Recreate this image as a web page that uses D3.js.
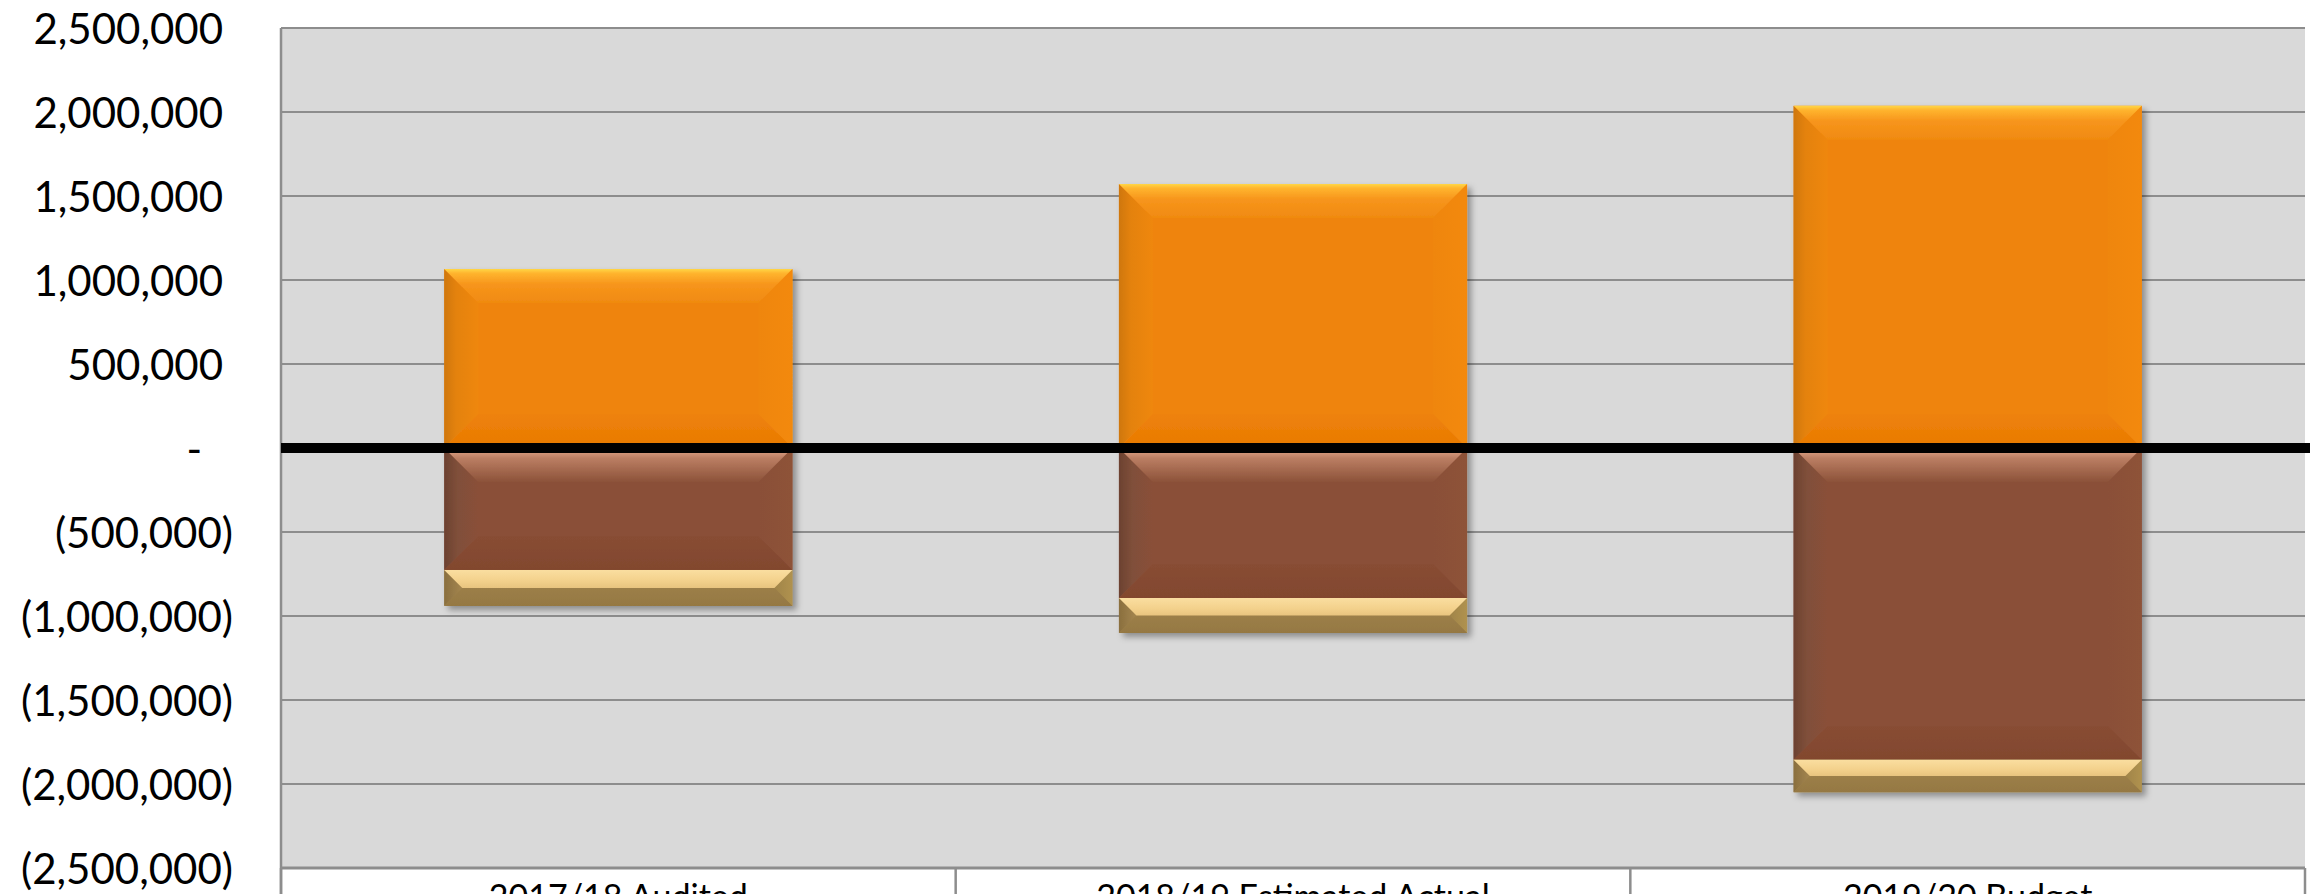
<!DOCTYPE html>
<html>
<head>
<meta charset="utf-8">
<script src="https://cdn.jsdelivr.net/npm/d3@7"></script>
<style>
  html, body { margin: 0; padding: 0; background: #ffffff; overflow: hidden; }
  svg { display: block; }
  text { font-family: Lato, "Open Sans", "Liberation Sans", sans-serif; fill: #000; }
</style>
</head>
<body>
<svg id="chart" width="2310" height="894"></svg>
<script>
// ---- data ----
const categories = ["2017/18 Audited", "2018/19 Estimated Actual", "2019/20 Budget"];
const seriesNames = ["Income", "Expenditure", "Other"];
const incomeValues = [1065000, 1571000, 2037000];
const expenditureValues = [-726000, -893000, -1855000];
const otherValues = [-214000, -208000, -194000];
const tickValues = [2500000, 2000000, 1500000, 1000000, 500000, 0, -500000, -1000000, -1500000, -2000000, -2500000];

// ---- layout ----
const W = 2310, H = 894;
const plot = { left: 281, right: 2305, top: 28, bottom: 868 };

const svg = d3.select("#chart");
const defs = svg.append("defs");

const rows = categories.map((c, i) => ({
  category: c,
  [seriesNames[0]]: incomeValues[i],
  [seriesNames[1]]: expenditureValues[i],
  [seriesNames[2]]: otherValues[i]
}));
const stacked = d3.stack().keys(seriesNames).offset(d3.stackOffsetDiverging)(rows);

const x = d3.scaleBand().domain(categories).range([plot.left, plot.right])
  .paddingInner(0.484).paddingOuter(0.242);
const y = d3.scaleLinear().domain([-2500000, 2500000]).range([plot.bottom, plot.top]);

// ---- palettes for bevelled segments ----
const palettes = {
  Income: {
    base: "#ef840c",
    top: [["0%", "#ffd646"], ["12%", "#ffb52e"], ["45%", "#f7951c"], ["100%", "#f08a10"]],
    left: [["0%", "#cf770f"], ["35%", "#e4820f"], ["100%", "#ef870f"]],
    right: [["0%", "#f3890a"], ["100%", "#ef860c"]],
    bottom: [["0%", "#e97a02"], ["100%", "#ee820a"]]
  },
  Expenditure: {
    base: "#8a5039",
    top: [["0%", "#e6aa8c"], ["30%", "#bb7e63"], ["100%", "#8c5239"]],
    left: [["0%", "#6c4131"], ["40%", "#80503a"], ["100%", "#8a5039"]],
    right: [["0%", "#8e5239"], ["100%", "#8a5039"]],
    bottom: [["0%", "#82472e"], ["100%", "#884d34"]]
  },
  Other: {
    base: "#9d8049",
    top: [["0%", "#fadea0"], ["60%", "#f3d18c"], ["100%", "#e8c47f"]],
    left: [["0%", "#8a6f3e"], ["100%", "#a48650"]],
    right: [["0%", "#b0924f"], ["100%", "#a08449"]],
    bottom: [["0%", "#957843"], ["100%", "#9c7f48"]]
  }
};

function addGrad(id, stops, dir) {
  const g = defs.append("linearGradient").attr("id", id)
    .attr("gradientUnits", "objectBoundingBox");
  if (dir === "top") g.attr("x1", 0).attr("y1", 0).attr("x2", 0).attr("y2", 1);
  if (dir === "bottom") g.attr("x1", 0).attr("y1", 1).attr("x2", 0).attr("y2", 0);
  if (dir === "left") g.attr("x1", 0).attr("y1", 0).attr("x2", 1).attr("y2", 0);
  if (dir === "right") g.attr("x1", 1).attr("y1", 0).attr("x2", 0).attr("y2", 0);
  stops.forEach(s => g.append("stop").attr("offset", s[0]).attr("stop-color", s[1]));
}
Object.entries(palettes).forEach(([k, p]) => {
  ["top", "left", "right", "bottom"].forEach(d => addGrad(`g-${k}-${d}`, p[d], d));
});

const shadow = defs.append("filter").attr("id", "shadow")
  .attr("x", "-10%").attr("y", "-10%").attr("width", "130%").attr("height", "130%");
shadow.append("feDropShadow").attr("dx", 4).attr("dy", 4).attr("stdDeviation", 3)
  .attr("flood-color", "#000").attr("flood-opacity", 0.35);

// ---- plot background ----
svg.append("rect").attr("x", plot.left).attr("y", plot.top)
  .attr("width", plot.right - plot.left).attr("height", plot.bottom - plot.top)
  .attr("fill", "#d9d9d9");

// gridlines
svg.append("g").selectAll("line").data(tickValues).join("line")
  .attr("x1", plot.left).attr("x2", plot.right)
  .attr("y1", d => y(d)).attr("y2", d => y(d))
  .attr("stroke", "#8d8d8d").attr("stroke-width", 2);

// plot left border
svg.append("line").attr("x1", plot.left).attr("x2", plot.left)
  .attr("y1", plot.top).attr("y2", H).attr("stroke", "#8d8d8d").attr("stroke-width", 2.5);

// category axis line and dividers
svg.append("line").attr("x1", plot.left).attr("x2", plot.right)
  .attr("y1", plot.bottom).attr("y2", plot.bottom)
  .attr("stroke", "#8d8d8d").attr("stroke-width", 3);
const step = x.step();
const dividers = d3.range(categories.length + 1).map(i => plot.left + i * step);
svg.append("g").selectAll("line").data(dividers).join("line")
  .attr("x1", d => d).attr("x2", d => d)
  .attr("y1", plot.bottom).attr("y2", H)
  .attr("stroke", "#8d8d8d").attr("stroke-width", 2.5);

// ---- bars ----
const barLayer = svg.append("g");
const columns = barLayer.selectAll("g.col").data(categories).join("g")
  .attr("class", "col").attr("filter", "url(#shadow)");

function bevel(g, x0, x1, yT, yB, key) {
  const p = palettes[key];
  const b = Math.min(34, (yB - yT) / 2, (x1 - x0) / 2);
  g.append("rect").attr("x", x0).attr("y", yT).attr("width", x1 - x0).attr("height", yB - yT)
    .attr("fill", p.base);
  const poly = (pts, fill) => g.append("polygon")
    .attr("points", pts.map(q => q.join(",")).join(" ")).attr("fill", fill);
  poly([[x0, yT], [x0 + b, yT + b], [x0 + b, yB - b], [x0, yB]], `url(#g-${key}-left)`);
  poly([[x1, yT], [x1, yB], [x1 - b, yB - b], [x1 - b, yT + b]], `url(#g-${key}-right)`);
  poly([[x0, yB], [x0 + b, yB - b], [x1 - b, yB - b], [x1, yB]], `url(#g-${key}-bottom)`);
  poly([[x0, yT], [x1, yT], [x1 - b, yT + b], [x0 + b, yT + b]], `url(#g-${key}-top)`);
}

columns.each(function (cat, i) {
  const g = d3.select(this);
  stacked.forEach(layer => {
    const seg = layer[i];
    const x0 = x(cat), x1 = x(cat) + x.bandwidth();
    const yT = y(Math.max(seg[0], seg[1])), yB = y(Math.min(seg[0], seg[1]));
    if (yB - yT > 0.5) bevel(g, x0, x1, yT, yB, layer.key);
  });
});

// zero line
svg.append("line").attr("x1", plot.left).attr("x2", W)
  .attr("y1", y(0)).attr("y2", y(0))
  .attr("stroke", "#000").attr("stroke-width", 10);

// ---- y tick labels (accounting format) ----
const fmt = d3.format(",");
const yAxis = d3.axisLeft(y).tickValues(tickValues).tickSize(0).tickPadding(0)
  .tickFormat(d => d === 0 ? "-" : d < 0 ? `(${fmt(-d)})` : fmt(d));
const axG = svg.append("g").attr("transform", `translate(233,0)`).call(yAxis);
axG.select(".domain").remove();
axG.selectAll("text")
  .attr("font-family", "Lato, 'Open Sans', sans-serif")
  .attr("font-size", 42)
  .attr("fill", "#000")
  .attr("dy", "0.36em")
  .attr("x", d => d === 0 ? -31 : d > 0 ? -10 : 0);

// ---- category labels ----
svg.append("g").selectAll("text").data(categories).join("text")
  .attr("x", d => x(d) + x.bandwidth() / 2)
  .attr("y", 909)
  .attr("text-anchor", "middle")
  .attr("font-size", 34)
  .text(d => d);
</script>
</body>
</html>
